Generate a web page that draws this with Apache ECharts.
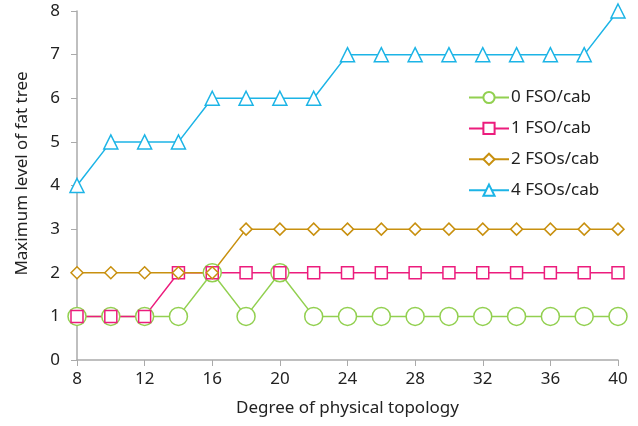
<!DOCTYPE html>
<html><head><meta charset="utf-8">
<script src="https://cdn.jsdelivr.net/npm/echarts@6/dist/echarts.min.js"></script>
<style>html,body{margin:0;padding:0;background:#fff}#c{width:638px;height:426px}</style>
</head><body><div id="c"></div>
<script>
const degrees = [8,10,12,14,16,18,20,22,24,26,28,30,32,34,36,38,40];
const fso0 = [1,1,1,1,2,1,2,1,1,1,1,1,1,1,1,1,1];
const fso1 = [1,1,1,2,2,2,2,2,2,2,2,2,2,2,2,2,2];
const fso2 = [2,2,2,2,2,3,3,3,3,3,3,3,3,3,3,3,3];
const fso4 = [4,5,5,5,6,6,6,6,7,7,7,7,7,7,7,7,8];
const seriesNames = ['0 FSO/cab','1 FSO/cab','2 FSOs/cab','4 FSOs/cab'];

const font = 'Noto Sans';
const pair = arr => degrees.map((d,i)=>[d,arr[i]]);
function mk(name, data, color, symbol, size){
  return {name, type:'line', data:pair(data), symbol, symbolSize:size,
    lineStyle:{color, width:1.5}, itemStyle:{color:'#fff', borderColor:color, borderWidth:1.5},
    emphasis:{disabled:true}, z: 2};
}
const chart = echarts.init(document.getElementById('c'), null, {renderer:'canvas'});
chart.setOption({
  animation:false,
  grid:{left:77, right:20, top:11, bottom:66, containLabel:false},
  legend:{orient:'vertical', left:463, top:84, itemWidth:40, itemHeight:14, itemGap:13.9,
    textStyle:{fontFamily:font, fontSize:17, color:'#222', padding:[0,0,0,-3]},
    data:seriesNames},
  xAxis:{type:'value', min:8, max:40, interval:4,
    name:'Degree of physical topology', nameLocation:'middle', nameGap:40,
    nameTextStyle:{fontFamily:font, fontSize:17, color:'#222'},
    axisLine:{lineStyle:{color:'#aaa', width:1.5}}, axisTick:{show:true, length:6, lineStyle:{color:'#aaa'}},
    axisLabel:{fontFamily:font, fontSize:17, color:'#222', margin:11}, splitLine:{show:false}},
  yAxis:{type:'value', min:0, max:8, interval:1,
    name:'Maximum level of fat tree', nameLocation:'middle', nameGap:46,
    nameTextStyle:{fontFamily:font, fontSize:17, color:'#222', padding:[0,0,0,24]},
    axisLine:{show:true, lineStyle:{color:'#aaa', width:1.5}}, axisTick:{show:true, length:6, lineStyle:{color:'#aaa'}},
    axisLabel:{fontFamily:font, fontSize:17, color:'#222', margin:17}, splitLine:{show:false}},
  series:[
    mk(seriesNames[0], fso0, '#92D050', 'circle', 18),
    mk(seriesNames[1], fso1, '#EC1C7D', 'rect', 12),
    mk(seriesNames[2], fso2, '#C8900F', 'diamond', 12),
    mk(seriesNames[3], fso4, '#1CB4E6', 'triangle', 14)
  ]
});
</script></body></html>
